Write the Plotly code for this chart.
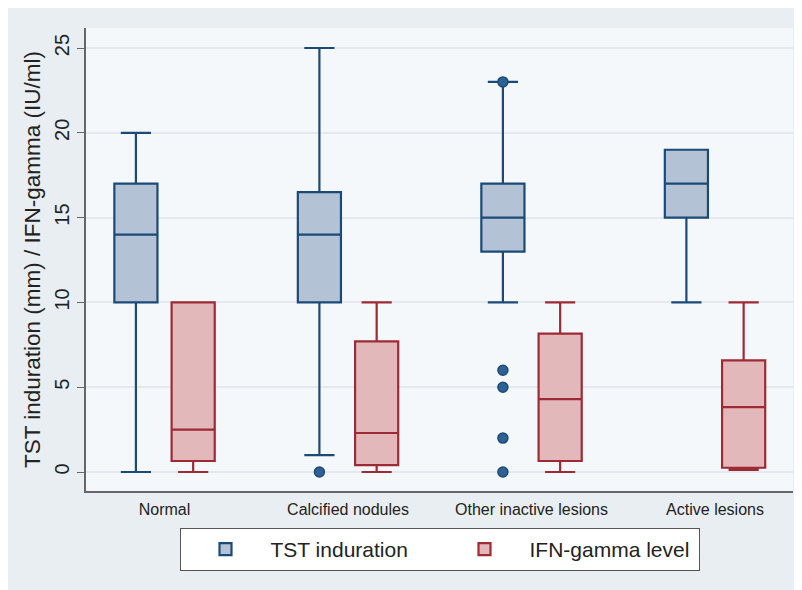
import plotly.graph_objects as go

categories = ["Normal", "Calcified nodules", "Other inactive lesions", "Active lesions"]

# TST induration (mm)
tst_lower = [0, 1, 10, 10]
tst_q1 = [10, 10, 13, 15]
tst_median = [14, 14, 15, 17]
tst_q3 = [17, 16.5, 17, 19]
tst_upper = [20, 25, 23, 19]
tst_outlier_cat = [1, 2, 2, 2, 2, 2]
tst_outlier_val = [0, 23, 6, 5, 2, 0]

# IFN-gamma level (IU/ml)
ifn_lower = [0, 0, 0, 0.12]
ifn_q1 = [0.65, 0.4, 0.65, 0.25]
ifn_median = [2.5, 2.3, 4.3, 3.82]
ifn_q3 = [10, 7.7, 8.16, 6.58]
ifn_upper = [10, 10, 10, 10]

y_ticks = [0, 5, 10, 15, 20, 25]

OFFSET = 0.156
BOXW = 0.235

pos = list(range(len(categories)))
tst_x = [p - OFFSET for p in pos]
ifn_x = [p + OFFSET for p in pos]

TST_LINE = "#1b4a78"
TST_FILL = "#b3c2d4"
IFN_LINE = "#9e2a35"
IFN_FILL = "#e2b8bb"

fig = go.Figure()
fig.add_trace(go.Box(
    name="TST induration", x=tst_x, q1=tst_q1, median=tst_median, q3=tst_q3,
    lowerfence=tst_lower, upperfence=tst_upper, width=BOXW, whiskerwidth=0.7,
    fillcolor=TST_FILL, line=dict(color=TST_LINE, width=2.2), boxpoints=False,
    hoverinfo="skip",
))
fig.add_trace(go.Box(
    name="IFN-gamma level", x=ifn_x, q1=ifn_q1, median=ifn_median, q3=ifn_q3,
    lowerfence=ifn_lower, upperfence=ifn_upper, width=BOXW, whiskerwidth=0.7,
    fillcolor=IFN_FILL, line=dict(color=IFN_LINE, width=2.2), boxpoints=False,
    hoverinfo="skip",
))
fig.add_trace(go.Scatter(
    x=[c - OFFSET for c in tst_outlier_cat], y=tst_outlier_val, mode="markers",
    marker=dict(size=10, color="#2f6294", line=dict(color=TST_LINE, width=1.5)),
    showlegend=False, hoverinfo="skip",
))

W, H = 802, 590
L, R, T, B = 78, 17, 20, 107

fig.update_layout(
    width=W, height=H,
    margin=dict(l=L, r=R, t=T, b=B, autoexpand=False),
    paper_bgcolor="#e9eef2",
    plot_bgcolor="#f5f8fa",
    boxmode="overlay",
    font=dict(family="Liberation Sans, Arial, sans-serif", color="#222222"),
    xaxis=dict(
        range=[-0.428, 3.425], tickmode="array", tickvals=pos, ticktext=categories,
        showgrid=False, zeroline=False, showline=True, linecolor="#666666", linewidth=1.5,
        ticks="", tickfont=dict(size=16), fixedrange=True, automargin=False,
        ticklabelstandoff=3,
    ),
    yaxis=dict(
        range=[-1.12, 26.18], tickmode="array", tickvals=y_ticks,
        showgrid=True, gridcolor="#e3e9ee", gridwidth=1.5, zeroline=False,
        showline=True, linecolor="#666666", linewidth=1.5,
        ticks="outside", ticklen=7, tickcolor="#666666", tickangle=-90,
        tickfont=dict(size=20), automargin=False,
        title=dict(text="TST induration (mm) / IFN-gamma (IU/ml)", font=dict(size=22.5), standoff=4),
    ),
    legend=dict(
        orientation="h", x=0.5, xanchor="center", y=-0.08, yanchor="top",
        bgcolor="#ffffff", bordercolor="#555555", borderwidth=1,
        font=dict(size=21), itemwidth=80, entrywidth=164,
    ),
    showlegend=True,
)

fig.write_html("out.html")
